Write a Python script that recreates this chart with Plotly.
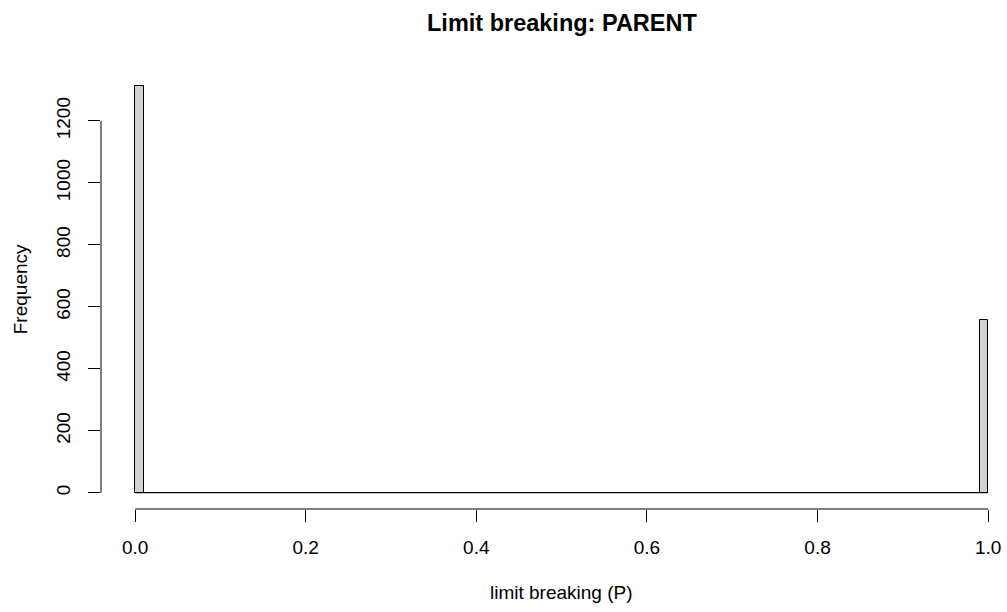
import plotly.graph_objects as go

# Histogram of limit breaking P values, 100 bins of width 0.01 on [0, 1]
bin_edges = [round(i * 0.01, 2) for i in range(101)]
bin_counts = [1312] + [0] * 98 + [558]

x_ticks = [0.0, 0.2, 0.4, 0.6, 0.8, 1.0]
x_tick_labels = ["0.0", "0.2", "0.4", "0.6", "0.8", "1.0"]
y_ticks = [0, 200, 400, 600, 800, 1000, 1200]
y_tick_labels = ["0", "200", "400", "600", "800", "1000", "1200"]

title_text = "Limit breaking: PARENT"
x_title = "limit breaking (P)"
y_title = "Frequency"

FONT = "Liberation Sans, Arial, sans-serif"

centers = [(bin_edges[i] + bin_edges[i + 1]) / 2 for i in range(len(bin_counts))]
widths = [bin_edges[i + 1] - bin_edges[i] for i in range(len(bin_counts))]

# R-style axis extension: 4% beyond the data range
ymax = max(bin_counts)
y_range = [-0.04 * ymax, ymax * 1.04]

W, H = 1007, 612
ml, mt = 101, 70
plot_w = W - ml
plot_h = 439.5
mb = H - mt - plot_h
px_per_x = 853.0
x_range = [-0.04, -0.04 + plot_w / px_per_x]

fig = go.Figure()

# baseline across empty bins
fig.add_trace(go.Scatter(
    x=[bin_edges[0], bin_edges[-1]], y=[0, 0], mode="lines",
    line=dict(color="black", width=1), hoverinfo="skip", showlegend=False,
))

fig.add_trace(go.Bar(
    x=centers, y=bin_counts, width=widths,
    marker=dict(color="#D3D3D3", line=dict(color="black", width=1)),
    showlegend=False,
))

# partial axis lines spanning the tick range only
fig.add_shape(type="line", xref="x", yref="paper",
              x0=x_ticks[0], x1=x_ticks[-1], y0=0, y1=0,
              line=dict(color="black", width=1))
fig.add_shape(type="line", xref="paper", yref="y",
              x0=0, x1=0, y0=y_ticks[0], y1=y_ticks[-1],
              line=dict(color="black", width=1))

def px_x(p):
    return (p - ml) / plot_w

def px_y(p):
    return (mt + plot_h - p) / plot_h

fig.add_annotation(text="<b>" + title_text + "</b>", xref="paper", yref="paper",
                   x=px_x(561.5), y=px_y(23), xanchor="center", yanchor="middle",
                   showarrow=False, font=dict(family=FONT, size=23.5, color="black"))
fig.add_annotation(text=x_title, xref="paper", yref="paper",
                   x=px_x(561.5), y=px_y(593), xanchor="center", yanchor="middle",
                   showarrow=False, font=dict(family=FONT, size=19, color="black"))
fig.add_annotation(text=y_title, xref="paper", yref="paper",
                   x=px_x(20), y=px_y(289.5), xanchor="center", yanchor="middle",
                   textangle=-90, showarrow=False,
                   font=dict(family=FONT, size=19, color="black"))

fig.update_layout(
    width=W, height=H,
    margin=dict(l=ml, r=0, t=mt, b=mb, pad=0),
    plot_bgcolor="white", paper_bgcolor="white",
    bargap=0,
    font=dict(family=FONT, size=19, color="black"),
    xaxis=dict(range=x_range, tickvals=x_ticks, ticktext=x_tick_labels,
               ticks="outside", ticklen=12, tickcolor="black", tickwidth=1,
               showgrid=False, zeroline=False, showline=False,
               tickfont=dict(family=FONT, size=19, color="black"),
               ticklabelstandoff=9),
    yaxis=dict(range=y_range, tickvals=y_ticks, ticktext=y_tick_labels,
               ticks="outside", ticklen=12, tickcolor="black", tickwidth=1,
               showgrid=False, zeroline=False, showline=False, tickangle=-90,
               tickfont=dict(family=FONT, size=19, color="black"),
               ticklabelstandoff=10),
)

fig.write_html("out.html")
